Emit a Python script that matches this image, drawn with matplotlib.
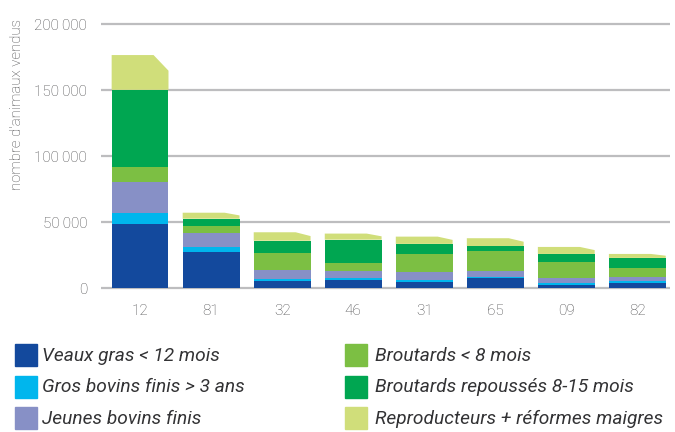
""" Ventes d'animaux par département """
import matplotlib.pyplot as plt
from matplotlib.patches import Rectangle
import numpy as np

# departements (x axis)
departements = ['12', '81', '32', '46', '31', '65', '09', '82']

# series values, stacked from bottom to top
veaux_gras = [49000, 27700, 5750, 6300, 5000, 7600, 2700, 4000]
gros_bovins = [8000, 3200, 1550, 1300, 1100, 700, 1500, 1800]
jeunes_bovins = [23800, 11100, 6600, 5700, 6200, 5000, 3600, 3000]
broutards_8 = [11100, 5300, 12600, 6100, 13700, 15000, 12100, 6800]
broutards_rep = [58300, 5350, 9500, 17400, 7600, 3700, 6100, 7400]
reproducteurs = [26300, 4550, 6400, 4600, 5500, 5900, 5300, 3000]

noms = ['Veaux gras < 12 mois', 'Gros bovins finis > 3 ans',
        'Jeunes bovins finis', 'Broutards < 8 mois',
        'Broutards repoussés 8-15 mois', 'Reproducteurs + réformes maigres']
couleurs = ['#13499d', '#00b6ed', '#8790c6', '#7cbf43', '#00a651', '#d0de7a']

yticks = [0, 50000, 100000, 150000, 200000]
ytick_labels = ['0', '50\u2009000', '100\u2009000', '150\u2009000', '200\u2009000']

plt.rcParams['font.family'] = ['Roboto', 'DejaVu Sans']

fig = plt.figure(figsize=(6.75, 4.32), dpi=100)
ax = fig.add_axes([101 / 675, 1 - 290 / 432, 569 / 675, 268 / 432])

series = [veaux_gras, gros_bovins, jeunes_bovins, broutards_8, broutards_rep]
x = np.arange(len(departements))
largeur = 0.8
bas = np.zeros(len(departements))
for vals, coul in zip(series, couleurs):
    ax.bar(x, vals, largeur, bottom=bas, color=coul, zorder=2)
    bas = bas + np.array(vals)

# top segment with the cut corner on the right
for i in range(len(departements)):
    b = bas[i]
    h = reproducteurs[i]
    x0 = x[i] - largeur / 2
    x1 = x[i] + largeur / 2
    coin = 0.21
    chute = 0.45 * h
    ax.fill([x0, x0, x1 - coin, x1, x1],
            [b, b + h, b + h, b + h - chute, b],
            color=couleurs[5], lw=0, zorder=2)

ax.set_xlim(-0.55, 7.46)
ax.set_ylim(-1288, 201515)
ax.set_yticks(yticks)
ax.set_yticklabels(ytick_labels)
ax.set_xticks(x)
ax.set_xticklabels(departements)
ax.tick_params(length=0, labelsize=11, colors='#4a4a4c', pad=10)
ax.tick_params(axis='y', pad=10)
for lab in ax.get_xticklabels() + ax.get_yticklabels():
    lab.set_fontweight('light')
ax.grid(axis='y', color='#bdbdbf', lw=1.6, zorder=0)
for s in ax.spines.values():
    s.set_visible(False)

fig.text(17 / 675, 1 - 105 / 432, "nombre d'animaux vendus", rotation=90,
         ha='center', va='center', fontsize=10.8, color='#4a4a4c',
         fontweight='light')

# legend, two columns of three
for i, (nom, coul) in enumerate(zip(noms, couleurs)):
    col = i // 3
    row = i % 3
    xs = [15, 345][col]
    dx = [27, 30][col]
    ys = 344 + row * 31.5
    fig.add_artist(Rectangle((xs / 675, 1 - (ys + 22) / 432), 22 / 675,
                             22 / 432, color=coul, transform=fig.transFigure))
    fig.text((xs + dx) / 675, 1 - (ys + 12) / 432, nom, ha='left',
             va='center', fontsize=13.8, style='italic', color='#333335')

plt.savefig('out.png')
